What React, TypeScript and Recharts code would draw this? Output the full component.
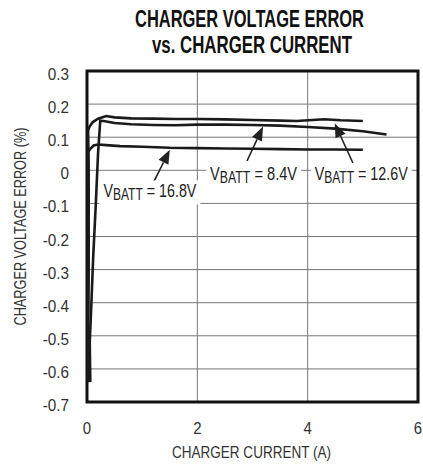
import React from "react";
import {
  LineChart,
  Line,
  XAxis,
  YAxis,
  CartesianGrid,
  ReferenceArea,
  ReferenceLine,
  ReferenceDot,
} from "recharts";

type Pt = { x: number; y: number };

const X_TICKS = [0, 2, 4, 6];
const Y_TICKS = [0.3, 0.2, 0.1, 0, -0.1, -0.2, -0.3, -0.4, -0.5, -0.6, -0.7];
const Y_TICK_LABELS = ["0.3", "0.2", "0.1", "0", "-0.1", "-0.2", "-0.3", "-0.4", "-0.5", "-0.6", "-0.7"];

// VBATT = 12.6V (top trace)
const V126: Pt[] = [
  { x: 0.03, y: -0.63 }, { x: 0.02, y: -0.55 }, { x: 0.03, y: -0.3 }, { x: 0.03, y: 0.0 },
  { x: 0.02, y: 0.12 }, { x: 0.04, y: 0.13 }, { x: 0.1, y: 0.145 }, { x: 0.2, y: 0.156 },
  { x: 0.35, y: 0.164 }, { x: 0.5, y: 0.16 }, { x: 0.8, y: 0.157 }, { x: 1.2, y: 0.156 },
  { x: 1.6, y: 0.155 }, { x: 2.0, y: 0.155 }, { x: 2.5, y: 0.154 }, { x: 3.0, y: 0.152 },
  { x: 3.5, y: 0.15 }, { x: 3.8, y: 0.149 }, { x: 4.3, y: 0.154 }, { x: 4.6, y: 0.151 },
  { x: 5.0, y: 0.149 },
];

// VBATT = 8.4V (middle trace)
const V84: Pt[] = [
  { x: 0.06, y: -0.64 }, { x: 0.05, y: -0.52 }, { x: 0.08, y: -0.4 }, { x: 0.11, y: -0.27 },
  { x: 0.16, y: -0.1 }, { x: 0.2, y: 0.05 }, { x: 0.24, y: 0.15 }, { x: 0.3, y: 0.149 },
  { x: 0.5, y: 0.143 }, { x: 0.8, y: 0.139 }, { x: 1.2, y: 0.137 }, { x: 1.6, y: 0.136 },
  { x: 2.0, y: 0.138 }, { x: 2.5, y: 0.138 }, { x: 3.0, y: 0.137 }, { x: 3.5, y: 0.135 },
  { x: 4.0, y: 0.131 }, { x: 4.5, y: 0.126 }, { x: 5.0, y: 0.118 }, { x: 5.43, y: 0.108 },
];

// VBATT = 16.8V (bottom trace)
const V168: Pt[] = [
  { x: 0.02, y: -0.64 }, { x: 0.01, y: -0.5 }, { x: 0.03, y: -0.2 }, { x: 0.02, y: 0.055 },
  { x: 0.06, y: 0.065 }, { x: 0.12, y: 0.075 }, { x: 0.2, y: 0.078 }, { x: 0.35, y: 0.076 },
  { x: 0.6, y: 0.073 }, { x: 1.0, y: 0.071 }, { x: 1.5, y: 0.068 }, { x: 2.0, y: 0.067 },
  { x: 2.5, y: 0.066 }, { x: 3.0, y: 0.065 }, { x: 3.5, y: 0.064 }, { x: 4.0, y: 0.063 },
  { x: 4.5, y: 0.063 }, { x: 5.0, y: 0.062 },
];

// annotation labels: value, centre x, baseline y
const TAGS = [
  { text: "16.8V", x: 1.14, y: -0.082, w: 93 },
  { text: "8.4V", x: 3.02, y: -0.03, w: 87 },
  { text: "12.6V", x: 4.97, y: -0.03, w: 93 },
];

// arrows: tail -> tip
const ARROWS = [
  { from: { x: 1.21, y: -0.035 }, to: { x: 1.5, y: 0.062 } },
  { from: { x: 2.9, y: 0.028 }, to: { x: 3.19, y: 0.132 } },
  { from: { x: 4.82, y: 0.022 }, to: { x: 4.49, y: 0.142 } },
];

const FONT = "'Liberation Sans', Arial, sans-serif";
const INK = "#222";
const GREY = "#333";

const Arrow = (props: any) => {
  const { x1, y1, x2, y2 } = props;
  const dx = x2 - x1;
  const dy = y2 - y1;
  const len = Math.sqrt(dx * dx + dy * dy) || 1;
  const ux = dx / len;
  const uy = dy / len;
  const hl = 14;
  const hw = 5.5;
  const bx = x2 - ux * hl;
  const by = y2 - uy * hl;
  return (
    <g>
      <line x1={x1} y1={y1} x2={bx} y2={by} stroke={INK} strokeWidth={1.6} />
      <polygon
        points={`${x2},${y2} ${bx - uy * hw},${by + ux * hw} ${bx + uy * hw},${by - ux * hw}`}
        fill={INK}
      />
    </g>
  );
};

const Tag = (props: any) => {
  const { cx, cy, text, w } = props;
  return (
    <g>
      <rect x={cx - w / 2 - 4} y={cy - 17} width={w + 8} height={24} fill="#fff" />
      <text
        x={cx - w / 2}
        y={cy}
        fontFamily={FONT}
        fontSize={19}
        fill={INK}
        textLength={w}
        lengthAdjust="spacingAndGlyphs"
      >
        V
        <tspan dy={3} fontSize={16}>BATT</tspan>
        <tspan dy={-3}> = {text}</tspan>
      </text>
    </g>
  );
};

const XTick = (props: any) => {
  const { x, y, payload } = props;
  return (
    <text
      transform={`translate(${x},${y + 30}) scale(0.88,1)`}
      textAnchor="middle"
      fontFamily={FONT}
      fontSize={17}
      fill={GREY}
    >
      {payload.value}
    </text>
  );
};

const YTick = (props: any) => {
  const { y, payload } = props;
  const i = Y_TICKS.findIndex((t) => Math.abs(t - payload.value) < 1e-9);
  return (
    <text
      transform={`translate(69,${y + 9}) scale(0.9,1)`}
      textAnchor="end"
      fontFamily={FONT}
      fontSize={17}
      fill={GREY}
    >
      {i >= 0 ? Y_TICK_LABELS[i] : payload.value}
    </text>
  );
};

const XTitle = (props: any) => {
  const vb = props.viewBox;
  const cx = vb.x + vb.width / 2 - 1;
  return (
    <text
      x={cx - 79.5}
      y={vb.y + 56}
      fontFamily={FONT}
      fontSize={17}
      fill={GREY}
      textLength={159}
      lengthAdjust="spacingAndGlyphs"
    >
      CHARGER CURRENT (A)
    </text>
  );
};

const YTitle = (props: any) => {
  const vb = props.viewBox;
  const cy = vb.y + vb.height / 2 - 10;
  return (
    <text
      transform={`translate(26,${cy}) rotate(-90)`}
      x={-99}
      y={0}
      fontFamily={FONT}
      fontSize={17}
      fill={GREY}
      textLength={198}
      lengthAdjust="spacingAndGlyphs"
    >
      CHARGER VOLTAGE ERROR (%)
    </text>
  );
};

export default function App() {
  return (
    <div style={{ position: "absolute", left: 0, top: 0, width: 423, height: 464, background: "#fff" }}>
      <svg width={423} height={62} style={{ position: "absolute", left: 0, top: 0 }}>
        <text
          x={135}
          y={27}
          fontFamily={FONT}
          fontWeight={700}
          fontSize={23}
          fill="#111"
          textLength={229}
          lengthAdjust="spacingAndGlyphs"
        >
          CHARGER VOLTAGE ERROR
        </text>
        <text
          x={152}
          y={53}
          fontFamily={FONT}
          fontWeight={700}
          fontSize={23}
          fill="#111"
          textLength={200}
          lengthAdjust="spacingAndGlyphs"
        >
          vs. CHARGER CURRENT
        </text>
      </svg>
      <div style={{ position: "absolute", left: 0, top: 0 }}>
        <LineChart width={423} height={464} margin={{ top: 71, right: 5, bottom: 0, left: 0 }}>
          <CartesianGrid stroke="#777" strokeWidth={1} />
          <XAxis
            type="number"
            dataKey="x"
            domain={[0, 6]}
            ticks={X_TICKS}
            allowDataOverflow
            height={62}
            tickSize={0}
            axisLine={false}
            tick={<XTick />}
            label={<XTitle />}
          />
          <YAxis
            type="number"
            dataKey="y"
            domain={[-0.7, 0.3]}
            ticks={Y_TICKS}
            allowDataOverflow
            width={87}
            tickSize={0}
            axisLine={false}
            tick={<YTick />}
            label={<YTitle />}
          />
          {TAGS.map((t) => (
            <ReferenceDot
              key={t.text}
              x={t.x}
              y={t.y}
              r={0}
              ifOverflow="visible"
              shape={(p: any) => <Tag {...p} text={t.text} w={t.w} />}
            />
          ))}
          {ARROWS.map((a, i) => (
            <ReferenceLine
              key={i}
              segment={[a.from, a.to]}
              ifOverflow="visible"
              shape={(p: any) => <Arrow {...p} />}
            />
          ))}
          <Line data={V126} dataKey="y" type="linear" stroke="#1a1a1a" strokeWidth={2.6} dot={false} isAnimationActive={false} />
          <Line data={V84} dataKey="y" type="linear" stroke="#1a1a1a" strokeWidth={2.6} dot={false} isAnimationActive={false} />
          <Line data={V168} dataKey="y" type="linear" stroke="#1a1a1a" strokeWidth={2.6} dot={false} isAnimationActive={false} />
          <ReferenceArea x1={0} x2={6} y1={-0.7} y2={0.3} fill="none" stroke="#111" strokeWidth={3} ifOverflow="visible" />
        </LineChart>
      </div>
    </div>
  );
}
